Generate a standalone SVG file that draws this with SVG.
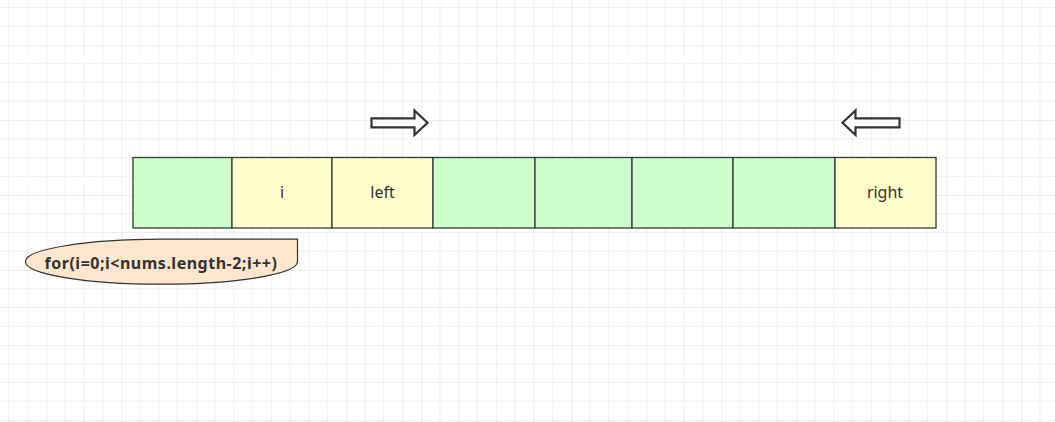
<svg xmlns="http://www.w3.org/2000/svg" width="1055" height="422" viewBox="0 0 1055 422">
  <defs>
    <pattern id="grid" x="46.25" y="45" width="75" height="75" patternUnits="userSpaceOnUse">
      <path d="M18.75 0V75M37.5 0V75M56.25 0V75M0 18.75H75M0 37.5H75M0 56.25H75" stroke="#efefef" stroke-width="1" fill="none"/>
      <path d="M0 0V75M0 0H75" stroke="#dedede" stroke-width="1" fill="none"/>
    </pattern>
    <style>
      .cell { stroke: #36393d; stroke-width: 1.3; }
      .g { fill: #ccffcc; }
      .y { fill: #ffffcc; }
      .lbl { font-family: "Noto Sans", "Open Sans", sans-serif; font-size: 16px; fill: #333333; text-anchor: middle; dominant-baseline: central; }
      .arrow { fill: #ffffff; stroke: #333333; stroke-width: 2.2; stroke-linejoin: miter; }
      .note { fill: #ffe6cc; stroke: #333333; stroke-width: 1.2; }
      .notetxt { font-family: "Noto Sans", "Open Sans", sans-serif; font-size: 16px; font-weight: bold; letter-spacing: 0.5px; fill: #333333; text-anchor: middle; dominant-baseline: central; }
    </style>
  </defs>
  <rect width="1055" height="422" fill="#ffffff"/>
  <rect width="1055" height="422" fill="url(#grid)"/>

  <g id="cells">
    <g id="cell0"><rect class="cell g" x="133" y="157.5" width="99" height="70.5"/></g>
    <g id="cell1"><rect class="cell y" x="232" y="157.5" width="100" height="70.5"/><text class="lbl" x="282" y="192">i</text></g>
    <g id="cell2"><rect class="cell y" x="332" y="157.5" width="101" height="70.5"/><text class="lbl" x="382.5" y="192">left</text></g>
    <g id="cell3"><rect class="cell g" x="433" y="157.5" width="102" height="70.5"/></g>
    <g id="cell4"><rect class="cell g" x="535" y="157.5" width="97" height="70.5"/></g>
    <g id="cell5"><rect class="cell g" x="632" y="157.5" width="101" height="70.5"/></g>
    <g id="cell6"><rect class="cell g" x="733" y="157.5" width="102" height="70.5"/></g>
    <g id="cell7"><rect class="cell y" x="835" y="157.5" width="101" height="70.5"/><text class="lbl" x="885" y="192">right</text></g>
  </g>

  <g id="connectors">
    <path id="arrowRight" class="arrow" d="M371.5 118.3H414.5V110.5L427.5 122.8L414.5 135V127.3H371.5Z"/>
    <path id="arrowLeft" class="arrow" d="M899.5 118.3H855.5V110.5L842.5 122.8L855.5 135V127.3H899.5Z"/>
  </g>

  <g id="note">
    <path class="note" d="M161.5 239.2H297.5V261.5A136 22.7 0 0 1 161.5 284.2A136 22.5 0 0 1 25.5 261.5A136 22.3 0 0 1 161.5 239.2Z"/>
    <text class="notetxt" x="161" y="262.5">for(i=0;i&lt;nums.length-2;i++)</text>
  </g>
</svg>
